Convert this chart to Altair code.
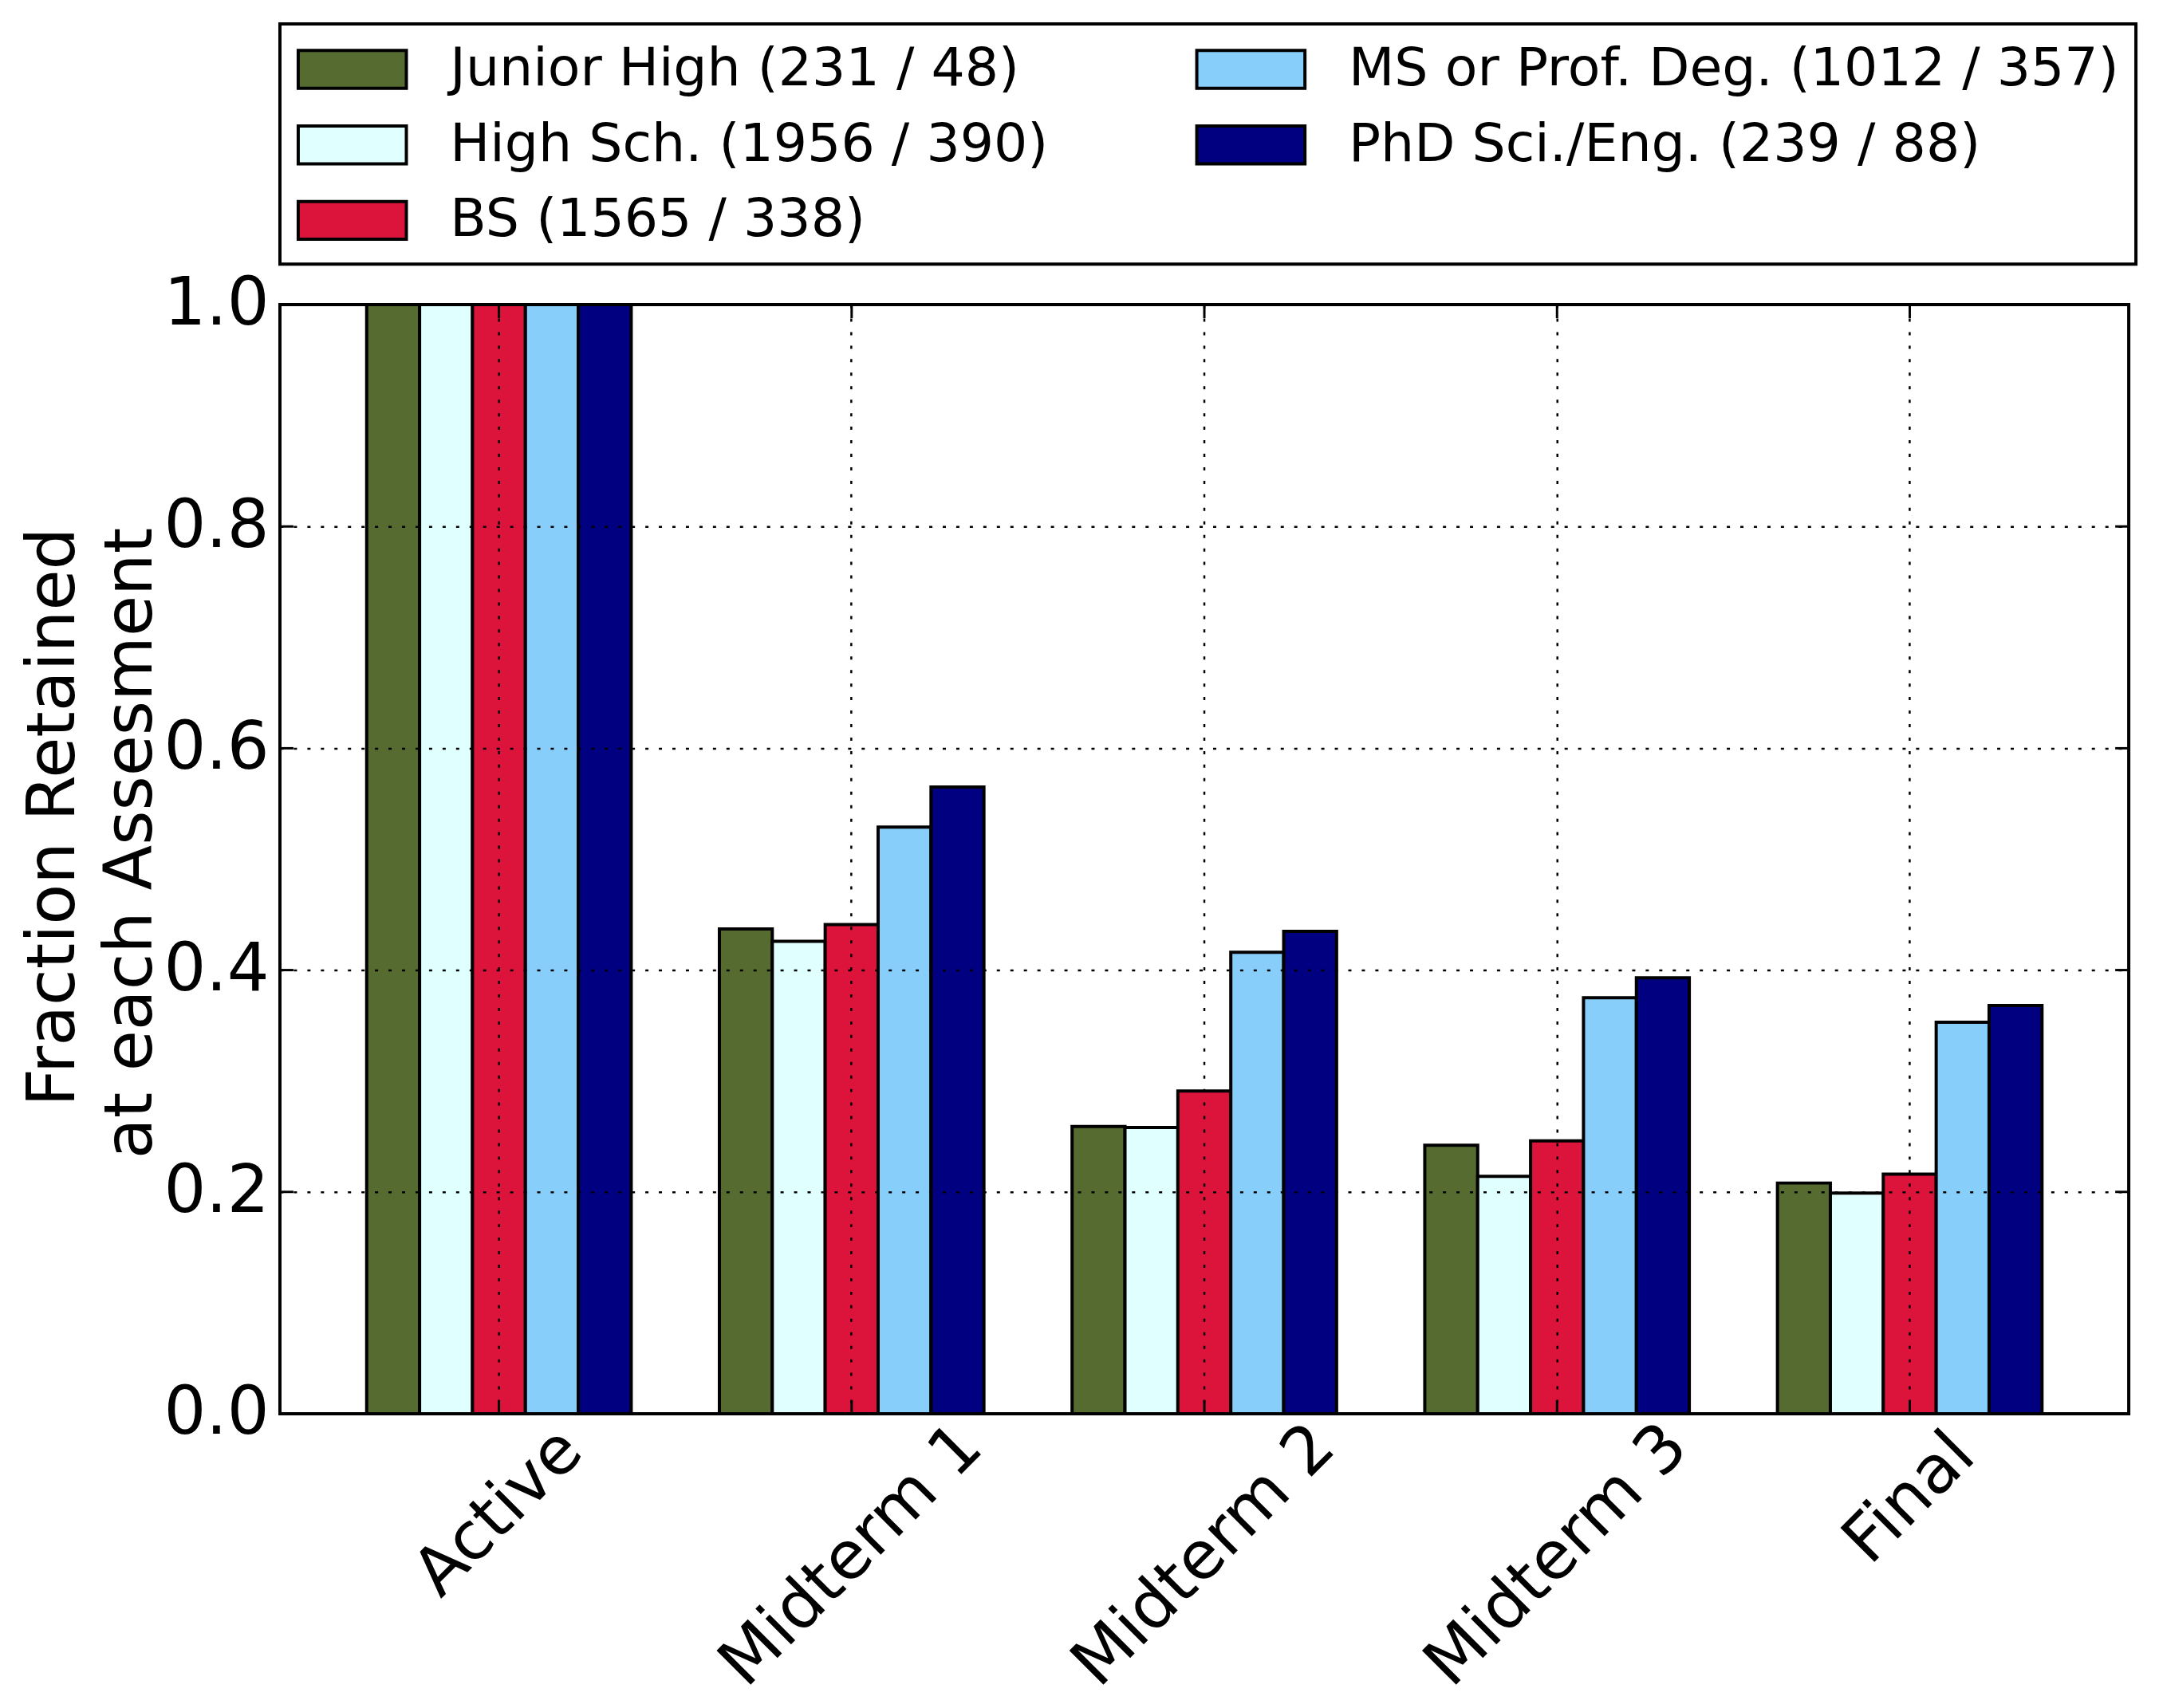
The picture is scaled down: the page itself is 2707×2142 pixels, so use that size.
import altair as alt
import pandas as pd

# ---------------- data ----------------
stages = ["Active", "Midterm 1", "Midterm 2", "Midterm 3", "Final"]
groups = [
    "Junior High (231 / 48)",
    "High Sch. (1956 / 390)",
    "BS (1565 / 338)",
    "MS or Prof. Deg. (1012 / 357)",
    "PhD Sci./Eng. (239 / 88)",
]
junior_high = [1.0, 0.437, 0.259, 0.242, 0.208]
high_school = [1.0, 0.426, 0.258, 0.214, 0.199]
bachelor = [1.0, 0.441, 0.291, 0.246, 0.216]
masters = [1.0, 0.529, 0.416, 0.375, 0.353]
phd = [1.0, 0.565, 0.435, 0.393, 0.368]
colors = ["#556B2F", "#E0FFFF", "#DC143C", "#87CEFA", "#000080"]
y_ticks = [0.0, 0.2, 0.4, 0.6, 0.8, 1.0]

series = [junior_high, high_school, bachelor, masters, phd]
rows = []
for g, vals in zip(groups, series):
    for s, v in zip(stages, vals):
        rows.append({"stage": s, "group": g, "value": v})
df = pd.DataFrame(rows)
ticks_df = pd.DataFrame({"value": y_ticks})
stage_df = pd.DataFrame({"stage": stages})

W, H = 2325, 1395
FONT = "DejaVu Sans"
TICK = 17

x_scale = alt.Scale(paddingInner=0.25, paddingOuter=0.246)
y_scale = alt.Scale(domain=[0, 1], nice=False)

grid_style = dict(grid=True, gridColor="black", gridDash=[4, 13], gridWidth=2.5,
                  gridOpacity=1, ticks=False, domain=False, zindex=1)

x_axis = alt.Axis(title=None, labelAngle=-45, labelAlign="center",
                  labelBaseline="middle", bandPosition=0.5,
                  labelPadding=alt.ExprRef(expr="18*length(datum.label)+16"),
                  labelFontSize=83.3, labelFont=FONT, labelColor="black",
                  labelOverlap=False, labelLimit=0, **grid_style)
y_axis = alt.Axis(values=y_ticks, format=".1f", labelFontSize=83.3,
                  labelFont=FONT, labelColor="black", labelPadding=14,
                  labelOverlap=False, labelFlush=False,
                  title=["Fraction Retained", "at each Assesment"],
                  titleFontSize=83.3, titleFont=FONT, titleFontWeight="normal",
                  titleColor="black", titleAngle=270, titleAlign="right",
                  titleBaseline="alphabetic", titleX=-259, titleY=280,
                  titleLineHeight=97, **grid_style)

bars = alt.Chart(df).mark_bar(stroke="black", strokeWidth=4, opacity=1).encode(
    x=alt.X("stage:N", sort=stages, scale=x_scale, axis=x_axis, title=None),
    xOffset=alt.XOffset("group:N", sort=groups,
                        scale=alt.Scale(paddingInner=0, paddingOuter=0)),
    y=alt.Y("value:Q", scale=y_scale, axis=y_axis,
            title=["Fraction Retained", "at each Assesment"]),
    color=alt.Color("group:N",
                    scale=alt.Scale(domain=groups, range=colors),
                    legend=alt.Legend(title=None, orient="none", legendX=0, legendY=-353,
                                      columns=2, columnPadding=178, rowPadding=25,
                                      padding=21, gridAlign="each",
                                      symbolType="M-1,-0.7L3,-0.7L3,0.7L-1,0.7Z",
                                      symbolSize=4624, symbolStrokeColor="black",
                                      symbolStrokeWidth=4, symbolOpacity=1,
                                      labelFontSize=66.7, labelFont=FONT,
                                      labelColor="black", labelOffset=121,
                                      labelLimit=0, strokeColor="black",
                                      fillColor="white")),
)

tick_rule = dict(color="black", strokeWidth=3)
left_ticks = alt.Chart(ticks_df).mark_rule(**tick_rule).encode(
    y=alt.Y("value:Q", scale=y_scale, title=["Fraction Retained", "at each Assesment"]),
    x=alt.value(0), x2=alt.value(TICK))
right_ticks = alt.Chart(ticks_df).mark_rule(**tick_rule).encode(
    y=alt.Y("value:Q", scale=y_scale, title=["Fraction Retained", "at each Assesment"]),
    x=alt.value(W - TICK), x2=alt.value(W))
bottom_ticks = alt.Chart(stage_df).mark_rule(**tick_rule).encode(
    x=alt.X("stage:N", sort=stages, scale=x_scale, title=None),
    y=alt.value(H - TICK), y2=alt.value(H))
top_ticks = alt.Chart(stage_df).mark_rule(**tick_rule).encode(
    x=alt.X("stage:N", sort=stages, scale=x_scale, title=None),
    y=alt.value(0), y2=alt.value(TICK))

chart = alt.layer(bars, left_ticks, right_ticks, bottom_ticks, top_ticks).properties(
    width=W, height=H,
    padding={"left": 344, "top": 372, "right": 30, "bottom": 367},
    autosize=alt.AutoSizeParams(type="none"),
    background="white",
).configure_view(stroke="black", strokeWidth=4).configure_legend(strokeWidth=4)

chart.save("out.html", embed_options={"renderer": "svg", "actions": False})
